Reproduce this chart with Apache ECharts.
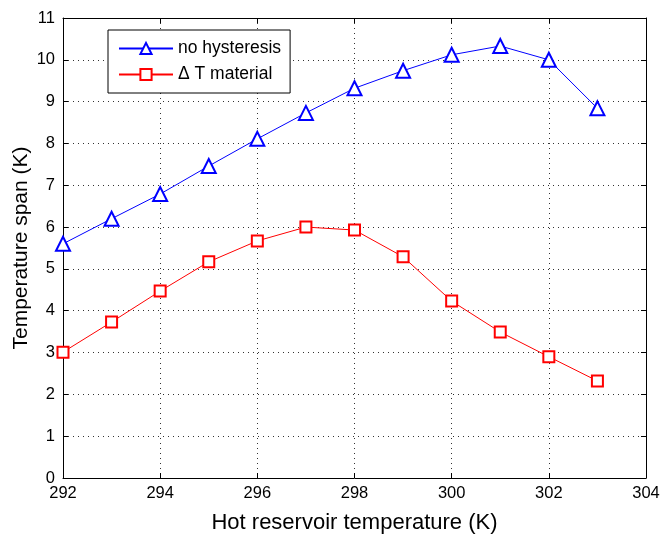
<!DOCTYPE html>
<html><head><meta charset="utf-8">
<script src="https://cdn.jsdelivr.net/npm/echarts@6/dist/echarts.min.js"></script>
<style>html,body{margin:0;padding:0;background:#fff}#c{width:662px;height:534px}</style>
</head><body><div id="c"></div>
<script>
var temps = [292, 293, 294, 295, 296, 297, 298, 299, 300, 301, 302, 303];
var noHysteresis = [5.6, 6.2, 6.79, 7.46, 8.11, 8.73, 9.32, 9.74, 10.12, 10.33, 10.0, 8.84];
var deltaTMaterial = [3.01, 3.73, 4.47, 5.17, 5.67, 6.0, 5.93, 5.29, 4.23, 3.49, 2.9, 2.32];
var seriesNames = ['no hysteresis', '\u0394 T material'];

function pairs(xs, ys){ return xs.map(function(x,i){ return [x, ys[i]]; }); }

var font = 'Liberation Sans, Arial, sans-serif';
var grid = {left: 63, right: 16, top: 18, bottom: 56, show: false, containLabel: false, outerBoundsMode: 'none'};
var dotted = {show: true, lineStyle: {color: '#333', type: [1, 4], width: 1}};
var axisLine = {show: true, onZero: false, lineStyle: {color: '#000', width: 1}};
var tick = {show: true, inside: true, length: 5, lineStyle: {color: '#000'}};

var chart = echarts.init(document.getElementById('c'), null, {renderer: 'canvas'});
chart.setOption({
  animation: false,
  grid: grid,
  legend: {
    orient: 'vertical', left: 108, top: 30,
    padding: [9, 9, 9, 10],
    itemGap: 7,
    itemWidth: 54, itemHeight: 14,
    borderColor: '#000', borderWidth: 1,
    backgroundColor: '#fff',
    textStyle: {fontFamily: font, fontSize: 17.5, color: '#000', lineHeight: 19},
    data: seriesNames
  },
  xAxis: [{
    type: 'value', min: 292, max: 304, interval: 2,
    name: 'Hot reservoir temperature (K)', nameLocation: 'middle', nameGap: 34,
    nameTextStyle: {fontFamily: font, fontSize: 22, color: '#000'},
    axisLine: axisLine, axisTick: tick,
    axisLabel: {fontFamily: font, fontSize: 16.5, color: '#000', margin: 7},
    splitLine: dotted
  }, {
    type: 'value', position: 'top', min: 292, max: 304, interval: 2,
    axisLine: axisLine, axisTick: tick, axisLabel: {show: false}, splitLine: {show: false}
  }],
  yAxis: [{
    type: 'value', min: 0, max: 11, interval: 1,
    name: 'Temperature span (K)', nameLocation: 'middle', nameGap: 31, nameMoveOverlap: false,
    nameTextStyle: {fontFamily: font, fontSize: 21, color: '#000'},
    axisLine: axisLine, axisTick: tick,
    axisLabel: {fontFamily: font, fontSize: 16.5, color: '#000', margin: 8},
    splitLine: dotted
  }, {
    type: 'value', position: 'right', min: 0, max: 11, interval: 1,
    axisLine: axisLine, axisTick: tick, axisLabel: {show: false}, splitLine: {show: false}
  }],
  series: [{
    name: seriesNames[0], type: 'line',
    data: pairs(temps, noHysteresis),
    symbol: 'emptyTriangle', symbolSize: 14,
    itemStyle: {color: '#0000ff', borderColor: '#0000ff', borderWidth: 1},
    lineStyle: {color: '#0000ff', width: 1}
  }, {
    name: seriesNames[1], type: 'line',
    data: pairs(temps, deltaTMaterial),
    symbol: 'emptyRect', symbolSize: 11,
    itemStyle: {color: '#ff0000', borderColor: '#ff0000', borderWidth: 1},
    lineStyle: {color: '#ff0000', width: 1}
  }]
});
</script></body></html>
